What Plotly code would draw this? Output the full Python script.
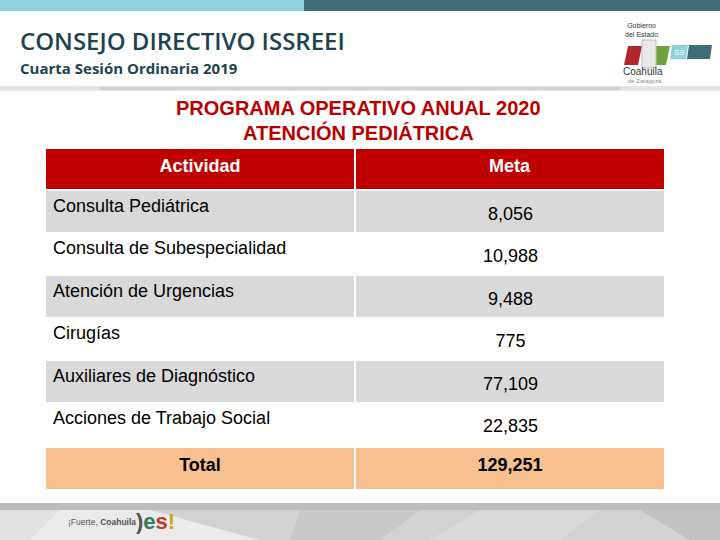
import plotly.graph_objects as go

# ---- data ----
actividades = ["Consulta Pediátrica", "Consulta de Subespecialidad", "Atención de Urgencias",
               "Cirugías", "Auxiliares de Diagnóstico", "Acciones de Trabajo Social"]
metas = [8056, 10988, 9488, 775, 77109, 22835]
total_label = "Total"
total_value = 129251
header_labels = ["Actividad", "Meta"]
titulo = ["PROGRAMA OPERATIVO ANUAL 2020", "ATENCIÓN PEDIÁTRICA"]
encabezado = "CONSEJO DIRECTIVO ISSREEI"
subencabezado = "Cuarta Sesión Ordinaria 2019"

W, H = 720, 540
def px(x):
    return x / W
def py(y):
    return 1 - y / H

col1 = actividades
col2 = ["{:,}".format(v) for v in metas]
row_fill = ["#D9D9D9" if i % 2 == 0 else "#FFFFFF" for i in range(len(actividades))]
FONT = "Liberation Sans, Arial"
TOP = 148
HEAD_H = 42
ROW_H = 42.5
body_bottom = TOP + HEAD_H + ROW_H * len(actividades)

fig = go.Figure()
# main table: header, fills and activity names
fig.add_trace(go.Table(
    domain=dict(x=[px(45), px(665)], y=[py(body_bottom + 1), py(TOP)]),
    columnwidth=[1, 1],
    header=dict(values=["<b>%s</b>" % h for h in header_labels],
                fill_color="#C00000",
                line=dict(color="white", width=2),
                align="center",
                height=HEAD_H,
                font=dict(family=FONT, size=18, color="white")),
    cells=dict(values=[col1, [""] * len(col1)],
               fill_color=[row_fill, row_fill],
               line=dict(color="white", width=2),
               align=["left", "center"],
               height=ROW_H,
               font=dict(family=FONT, size=18, color="black")),
))
# values column (vertically centred lower in the rows)
fig.add_trace(go.Table(
    domain=dict(x=[px(356), px(665)], y=[py(body_bottom + 10), py(TOP + 8)]),
    header=dict(values=[""], fill_color="rgba(0,0,0,0)", line=dict(width=0), height=HEAD_H),
    cells=dict(values=[col2],
               fill_color="rgba(0,0,0,0)",
               line=dict(width=0),
               align="center",
               height=ROW_H,
               font=dict(family=FONT, size=18, color="black")),
))
# total row
fig.add_trace(go.Table(
    domain=dict(x=[px(45), px(665)], y=[py(body_bottom + 46), py(body_bottom + 2)]),
    columnwidth=[1, 1],
    header=dict(values=["<b>%s</b>" % total_label, "<b>{:,}</b>".format(total_value)],
                fill_color="#F8C08F",
                line=dict(color="white", width=2),
                align="center",
                height=ROW_H,
                font=dict(family=FONT, size=18, color="black")),
    cells=dict(values=[[], []], height=1, line=dict(width=0), fill_color="rgba(0,0,0,0)"),
))

shapes = []
# top bars
shapes.append(dict(type="rect", xref="paper", yref="paper", x0=0, x1=px(304), y0=py(11), y1=1,
                   fillcolor="#8ED3DC", line=dict(width=0), layer="below"))
shapes.append(dict(type="rect", xref="paper", yref="paper", x0=px(304), x1=1, y0=py(11), y1=1,
                   fillcolor="#3E6D76", line=dict(width=0), layer="below"))
# shadow under header
shapes.append(dict(type="rect", xref="paper", yref="paper", x0=0, x1=1, y0=py(91), y1=py(86),
                   fillcolor="#E6E6E6", line=dict(width=0), layer="below"))
shapes.append(dict(type="rect", xref="paper", yref="paper", x0=px(100), x1=px(620), y0=py(90), y1=py(87),
                   fillcolor="#D2D2D2", line=dict(width=0), layer="below"))
# footer
shapes.append(dict(type="rect", xref="paper", yref="paper", x0=0, x1=1, y0=0, y1=py(505),
                   fillcolor="#D2D2D2", line=dict(width=0), layer="below"))
shapes.append(dict(type="rect", xref="paper", yref="paper", x0=0, x1=1, y0=py(510), y1=py(503),
                   fillcolor="#BDBDBD", line=dict(width=0), layer="below"))
def poly(pts, color, layer="below"):
    d = "M " + " L ".join("%f,%f" % (px(x), py(y)) for x, y in pts) + " Z"
    return dict(type="path", xref="paper", yref="paper", path=d, fillcolor=color,
                line=dict(width=0), layer=layer)
shapes.append(poly([(0, 510), (60, 510), (30, 540), (0, 540)], "#E2E2E2"))
shapes.append(poly([(60, 510), (150, 510), (260, 540), (30, 540)], "#EBEBEB"))
shapes.append(poly([(300, 510), (420, 510), (380, 540), (290, 540)], "#C8C8C8"))
shapes.append(poly([(480, 510), (600, 510), (560, 540), (430, 540)], "#DADADA"))
shapes.append(poly([(640, 510), (720, 510), (720, 540), (690, 540)], "#C2C2C2"))
# logo
shapes.append(poly([(628, 46), (642, 46), (638, 65), (624, 65)], "#B3262D", "above"))
shapes.append(poly([(656, 46), (670, 46), (666, 65), (652, 65)], "#6FA23A", "above"))
shapes.append(dict(type="rect", xref="paper", yref="paper", x0=px(642), x1=px(656), y0=py(68), y1=py(40),
                   fillcolor="#E8E8E8", line=dict(color="#BBBBBB", width=1)))
shapes.append(poly([(672, 45), (688, 45), (686, 59), (670, 59)], "#8ED3DC", "above"))
shapes.append(poly([(689, 45), (712, 45), (710, 59), (687, 59)], "#3E6D76", "above"))

annotations = [
    dict(text=encabezado, x=px(18), y=py(40), xanchor="left", yanchor="middle", showarrow=False,
         xref="paper", yref="paper",
         font=dict(family="Open Sans", size=24, weight=600, color="#1D4350")),
    dict(text="<b>" + subencabezado + "</b>", x=px(18), y=py(68), xanchor="left", yanchor="middle",
         showarrow=False, xref="paper", yref="paper",
         font=dict(family="Open Sans", size=15, color="#1D4350")),
    dict(text="<b>" + titulo[0] + "</b>", x=px(358), y=py(108), xanchor="center",
         yanchor="middle", showarrow=False, xref="paper", yref="paper",
         font=dict(family=FONT, size=20, color="#B80000")),
    dict(text="<b>" + titulo[1] + "</b>", x=px(358), y=py(132), xanchor="center",
         yanchor="middle", showarrow=False, xref="paper", yref="paper",
         font=dict(family=FONT, size=20, color="#B80000")),
    dict(text="Gobierno<br>del Estado", x=px(641), y=py(30), xanchor="center", yanchor="middle",
         showarrow=False, xref="paper", yref="paper", align="center",
         font=dict(family="Liberation Sans Narrow, Liberation Sans", size=7, color="#333333")),
    dict(text="Coahuila", x=px(643), y=py(72), xanchor="center", yanchor="middle",
         showarrow=False, xref="paper", yref="paper",
         font=dict(family="Liberation Sans", size=10, color="#333333")),
    dict(text="de Zaragoza", x=px(645), y=py(81), xanchor="center", yanchor="middle",
         showarrow=False, xref="paper", yref="paper",
         font=dict(family="Liberation Sans", size=6, color="#888888")),
    dict(text="SS", x=px(679), y=py(52), xanchor="center", yanchor="middle",
         showarrow=False, xref="paper", yref="paper",
         font=dict(family="Liberation Sans", size=8, color="white")),
    dict(text="¡Fuerte, <b>Coahuila</b>", x=px(66), y=py(522), xanchor="left", yanchor="middle",
         showarrow=False, xref="paper", yref="paper",
         font=dict(family="Liberation Sans Narrow, Liberation Sans", size=8.5, color="#555555")),
    dict(text="<b>)</b><b><span style='color:#2E7D5B'>e</span><span style='color:#C0392B'>s</span><span style='color:#D4A017'>!</span></b>",
         x=px(134), y=py(521), xanchor="left", yanchor="middle",
         showarrow=False, xref="paper", yref="paper",
         font=dict(family="Liberation Sans", size=22, color="#555555")),
]

fig.update_layout(width=W, height=H, margin=dict(l=0, r=0, t=0, b=0),
                  paper_bgcolor="white", plot_bgcolor="white",
                  shapes=shapes, annotations=annotations, showlegend=False)
fig.write_html("out.html", config={"displayModeBar": False},
               post_script="document.body.style.margin='0';")
